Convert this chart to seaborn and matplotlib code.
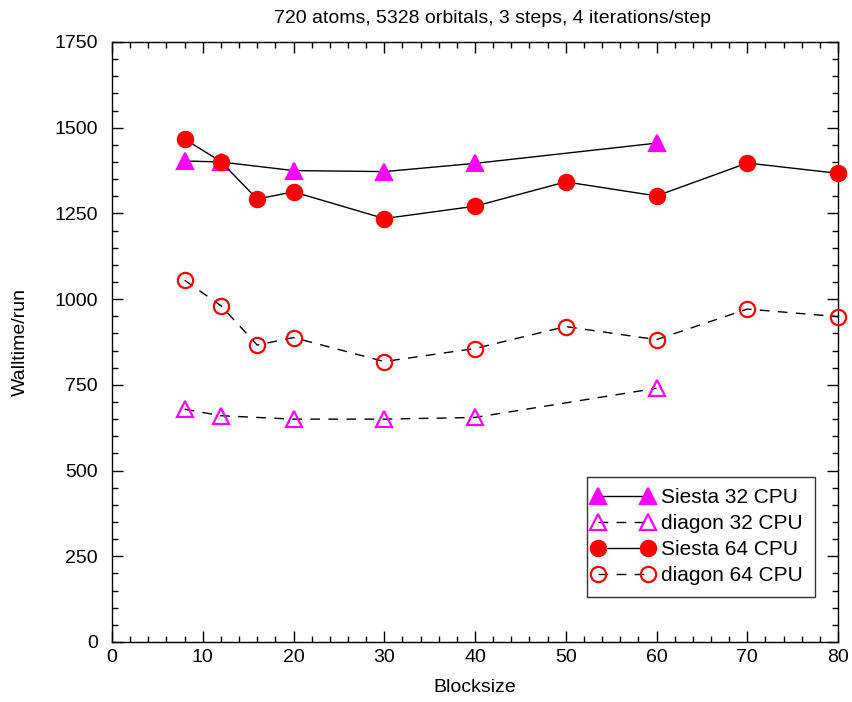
import pandas as pd
import numpy as np
import seaborn as sns
import matplotlib.pyplot as plt
from matplotlib.ticker import MultipleLocator
from matplotlib.legend_handler import HandlerLine2D
from matplotlib.lines import Line2D

# values
bs_32 = [8, 12, 20, 30, 40, 60]
siesta_32 = [1403, 1400, 1375, 1372, 1396, 1455]
diagon_32 = [679, 660, 650, 650, 655, 740]

bs_64 = [8, 12, 16, 20, 30, 40, 50, 60, 70, 80]
siesta_64 = [1467, 1401, 1292, 1313, 1235, 1271, 1342, 1301, 1397, 1367]
diagon_64 = [1055, 981, 866, 888, 818, 856, 920, 882, 971, 949]

sns.set_style("ticks")
plt.rcParams["font.family"] = ["Liberation Sans", "DejaVu Sans"]
plt.rcParams["text.color"] = "black"
plt.rcParams["xtick.color"] = "black"
plt.rcParams["ytick.color"] = "black"
plt.rcParams["axes.labelcolor"] = "black"

fig = plt.figure(figsize=(8.52, 7.02), dpi=100)
ax = fig.add_axes([112 / 852, 1 - 642 / 702, 726 / 852, 600 / 702])

series = [
    ("Siesta 32 CPU", bs_32, siesta_32, "^", "#ff00ff", True, "-"),
    ("diagon 32 CPU", bs_32, diagon_32, "^", "#ff00ff", False, (0, (7, 6))),
    ("Siesta 64 CPU", bs_64, siesta_64, "o", "#ff0000", True, "-"),
    ("diagon 64 CPU", bs_64, diagon_64, "o", "#ff0000", False, (0, (7, 6))),
]

for name, x, y, mk, col, filled, ls in series:
    df = pd.DataFrame({"Blocksize": x, "Walltime": y})
    sns.lineplot(
        data=df,
        x="Blocksize",
        y="Walltime",
        ax=ax,
        label=name,
        color="black",
        linewidth=1.0,
        linestyle=ls,
        marker=mk,
        markersize=11,
        markerfacecolor=col if filled else "none",
        markeredgecolor=col,
        markeredgewidth=1.6,
        clip_on=False,
        zorder=3,
    )

ax.set_xlim(0, 80)
ax.set_ylim(0, 1750)
ax.xaxis.set_major_locator(MultipleLocator(10))
ax.xaxis.set_minor_locator(MultipleLocator(2))
ax.yaxis.set_major_locator(MultipleLocator(250))
ax.yaxis.set_minor_locator(MultipleLocator(50))
ax.tick_params(which="both", direction="in", top=True, right=True, labelsize=14)
ax.tick_params(axis="y", pad=10)
ax.tick_params(axis="x", pad=5)
ax.tick_params(which="major", length=8, width=1)
ax.tick_params(which="minor", length=4, width=1)
for s in ax.spines.values():
    s.set_linewidth(1.0)
    s.set_color("black")

ax.set_xlabel("Blocksize", fontsize=14)
ax.set_ylabel("Walltime/run", fontsize=14)
ax.yaxis.set_label_coords((29 - 112) / 726, 0.5)
ax.xaxis.set_label_coords(0.5, -(679 - 642) / 600)
ax.set_title("720 atoms, 5328 orbitals, 3 steps, 4 iterations/step",
             fontsize=14, pad=14, x=(493 - 112) / 726)

leg = ax.legend(
    loc="upper left",
    bbox_to_anchor=((587 - 112) / 726, (642 - 477) / 600),
    numpoints=2,
    handler_map={Line2D: HandlerLine2D(marker_pad=0.0)},
    handlelength=2.4,
    handletextpad=0.62,
    fontsize=15,
    frameon=True,
    fancybox=False,
    borderpad=0.55,
    borderaxespad=0,
    labelspacing=0.33,
)
leg.get_frame().set_edgecolor("black")
leg.get_frame().set_linewidth(1.0)

fig.savefig("out.png", dpi=100)
